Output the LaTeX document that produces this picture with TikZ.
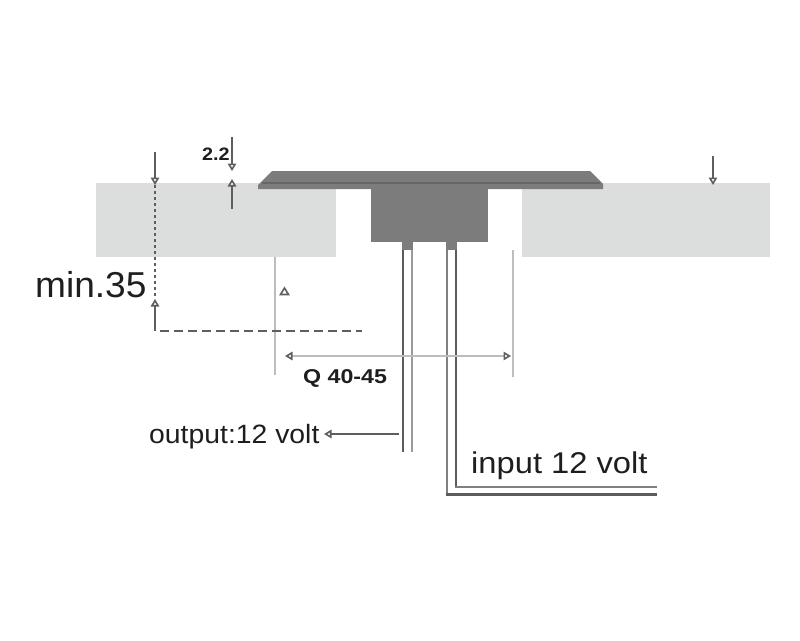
\documentclass[tikz,border=0pt]{standalone}
\usepackage{graphicx}
\usepackage{fontspec}
\setmainfont{Liberation Sans}
\usetikzlibrary{arrows.meta}
\definecolor{slab}{HTML}{DCDEDD}
\definecolor{metal}{HTML}{7C7C7C}
\definecolor{metaldark}{HTML}{666666}
\definecolor{wiredark}{HTML}{5C5C5C}
\definecolor{wirelight}{HTML}{9A9A9A}
\definecolor{wiremid}{HTML}{808080}
\definecolor{guide}{HTML}{BDBDBD}
\definecolor{dimc}{HTML}{5E5E5E}
\definecolor{inktext}{HTML}{1E1E1E}
\tikzset{
  slabshape/.style={fill=slab,draw=none},
  metalshape/.style={fill=metal,draw=none},
  wd/.style={draw=wiredark,line width=2pt},
  wl/.style={draw=wirelight,line width=2pt},
  guideline/.style={draw=guide,line width=1.3pt},
  dimline/.style={draw=dimc,line width=1.5pt},
  openhead/.tip={Triangle[open,length=7.5pt,width=8.5pt,line width=1.6pt,fill=white,color=dimc]},
  txt/.style={inner sep=0pt,text=inktext,anchor=base west}
}
\begin{document}
\begin{tikzpicture}[x=1pt,y=-1pt]
\useasboundingbox (0,0) rectangle (800,640);
\fill[white] (0,0) rectangle (800,640);
% slabs
\node[slabshape,minimum width=240pt,minimum height=74pt,inner sep=0pt,anchor=north west] (slabL) at (96,183) {};
\node[slabshape,minimum width=248pt,minimum height=74pt,inner sep=0pt,anchor=north west] (slabR) at (522,183) {};
% wires
\draw[wd] (403,250) -- (403,452);
\draw[wl] (412,250) -- (412,452);
\draw[wl,draw=wiremid] (446.5,250) -- (446.5,494.5);
\draw[wd,line width=2.4pt] (445.5,494.5) -- (657,494.5);
\draw[wd] (455.5,250) -- (455.5,486.5);
\draw[draw=wiremid,line width=2pt] (454.5,486.5) -- (657,486.5);
% stubs
\fill[metal] (402,242) rectangle (413,250);
\fill[metal] (446,242) rectangle (457,250);
% fixture
\fill[metalshape] (272,171) -- (590,171) -- (603,184) -- (603,189) -- (258,189) -- (258,185) -- cycle;
\node[metalshape,minimum width=117pt,minimum height=54pt,inner sep=0pt,anchor=north west] (body) at (371,188) {};
\draw[metaldark,line width=1.2pt] (262,183) -- (600,183);
% guides
\coordinate (gl1) at (275,257); \coordinate (gl2) at (275,375);
\coordinate (gr1) at (513,250); \coordinate (gr2) at (513,377);
\draw[guideline] (gl1) -- (gl2);
\draw[guideline] (gr1) -- (gr2);
\coordinate (qa) at (285,356); \coordinate (qb) at (511,356);
\draw[guideline,{openhead}-{openhead}] (qa) -- (qb);
% min.35 dimension
\coordinate (ma) at (155,152); \coordinate (mb) at (155,185);
\coordinate (mc) at (155,299); \coordinate (md) at (155,331);
\draw[dimline,-{openhead}] (ma) -- (mb);
\draw[dimline,-{openhead}] (md) -- (mc);
\draw[dimline,dash pattern=on 3pt off 3pt] (mb) -- (mc);
\coordinate (dd) at (160,331); \coordinate (de) at (362,331);
\draw[dimc,line width=1.4pt,dash pattern=on 9pt off 5pt] (dd) -- (de);
% stray head
\fill[fill=white,draw=dimc,line width=1.6pt,line join=miter] (280.5,294.5) -- (284.5,288) -- (288.5,294.5) -- cycle;
% 2.2 dimension
\coordinate (ta) at (232,137); \coordinate (tb) at (232,171);
\coordinate (tc) at (232,209); \coordinate (td) at (232,179);
\draw[dimline,line width=1.2pt,-{openhead}] (ta) -- (tb);
\draw[dimline,line width=1.2pt,-{openhead}] (tc) -- (td);
% right arrow
\coordinate (ra) at (713,156); \coordinate (rb) at (713,185);
\draw[dimline,line width=1.1pt,-{openhead}] (ra) -- (rb);
% output arrow
\coordinate (oa) at (399,434); \coordinate (ob) at (324,434);
\draw[dimline,line width=1.8pt,-{openhead}] (oa) -- (ob);
% texts
\node[txt,font=\fontsize{36}{36}\selectfont] (tmin) at (35,297) {\scalebox{1.03}[1]{min.35}};
\node[txt,font=\bfseries\fontsize{18}{18}\selectfont] (t22) at (202,160) {\scalebox{1.1}[1]{2.2}};
\node[txt,font=\bfseries\fontsize{20}{20}\selectfont] (tq) at (303,383) {\scalebox{1.16}[1]{Q 40-45}};
\node[txt,font=\fontsize{26.5}{26.5}\selectfont] (tout) at (149,443) {\scalebox{1.07}[1]{output:12 volt}};
\node[txt,font=\fontsize{30}{30}\selectfont] (tin) at (471,473) {\scalebox{1.09}[1]{input 12 volt}};
\end{tikzpicture}
\end{document}
